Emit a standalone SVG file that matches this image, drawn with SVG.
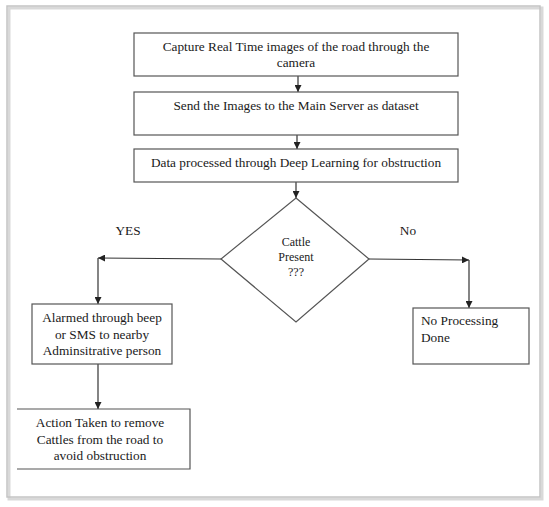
<svg xmlns="http://www.w3.org/2000/svg" width="549" height="507" viewBox="0 0 549 507">
<style>
  .box { fill: #ffffff; stroke: #555555; stroke-width: 1.2; }
  .txt { font-family: 'Liberation Serif', 'DejaVu Serif', serif; font-size: 13.3px; fill: #1a1a1a; }
  .dtxt { font-size: 12px; }
  .mid { text-anchor: middle; }
  .conn { fill: none; stroke: #333333; stroke-width: 1.2; }
</style>
<defs>
  <marker id="arr" viewBox="0 0 10 10" refX="10" refY="5" markerWidth="7" markerHeight="7" markerUnits="userSpaceOnUse" orient="auto">
    <path d="M0,0 L10,5 L0,10 z" fill="#222222"/>
  </marker>
</defs>
<rect width="549" height="507" fill="#ffffff"/>
<g id="frame">
  <rect x="9" y="8" width="533" height="491" fill="none" stroke="#d9d9d9" stroke-width="3"/>
  <rect x="7" y="6" width="533" height="491" fill="none" stroke="#c4c4c4" stroke-width="1.5"/>
</g>
<g id="connectors">
  <line class="conn" x1="298" y1="76" x2="298" y2="92" marker-end="url(#arr)"/>
  <line class="conn" x1="297" y1="135" x2="297" y2="149" marker-end="url(#arr)"/>
  <line class="conn" x1="296" y1="182" x2="296" y2="198" marker-end="url(#arr)"/>
  <polyline class="conn" points="221,259 98,258" marker-end="url(#arr)"/>
  <line class="conn" x1="98" y1="258" x2="98" y2="304" marker-end="url(#arr)"/>
  <polyline class="conn" points="369,259 469,260" marker-end="url(#arr)"/>
  <line class="conn" x1="469" y1="260" x2="469" y2="308" marker-end="url(#arr)"/>
  <line class="conn" x1="98" y1="364" x2="98" y2="409" marker-end="url(#arr)"/>
</g>
<g id="n1">
  <rect class="box" x="134" y="33" width="324" height="43"/>
  <text class="txt mid" x="296" y="51">Capture Real Time images of the road through the</text>
  <text class="txt mid" x="296" y="67">camera</text>
</g>
<g id="n2">
  <rect class="box" x="134" y="92" width="324" height="43"/>
  <text class="txt mid" x="296" y="110">Send the Images to the Main Server as dataset</text>
</g>
<g id="n3">
  <rect class="box" x="134" y="149" width="324" height="33"/>
  <text class="txt mid" x="296" y="167">Data processed through Deep Learning for obstruction</text>
</g>
<g id="decision">
  <polygon class="box" points="296,198 369,259 296,322 221,259"/>
  <text class="txt dtxt mid" x="296" y="246">Cattle</text>
  <text class="txt dtxt mid" x="296" y="261">Present</text>
  <text class="txt dtxt mid" x="296" y="276">???</text>
</g>
<g id="labels">
  <text class="txt mid" x="128" y="235">YES</text>
  <text class="txt mid" x="408" y="235">No</text>
</g>
<g id="n4">
  <rect class="box" x="32" y="304" width="140" height="60"/>
  <text class="txt mid" x="102" y="322">Alarmed through beep</text>
  <text class="txt mid" x="102" y="339">or SMS to nearby</text>
  <text class="txt mid" x="102" y="355">Adminsitrative person</text>
</g>
<g id="n5">
  <polyline class="box" points="17,409 190,409 190,469 17,469"/>
  <text class="txt mid" x="100" y="427">Action Taken to remove</text>
  <text class="txt mid" x="100" y="444">Cattles from the road to</text>
  <text class="txt mid" x="100" y="460">avoid obstruction</text>
</g>
<g id="n6">
  <rect class="box" x="413" y="308" width="116" height="56"/>
  <text class="txt" x="421" y="325">No Processing</text>
  <text class="txt" x="421" y="342">Done</text>
</g>
</svg>
